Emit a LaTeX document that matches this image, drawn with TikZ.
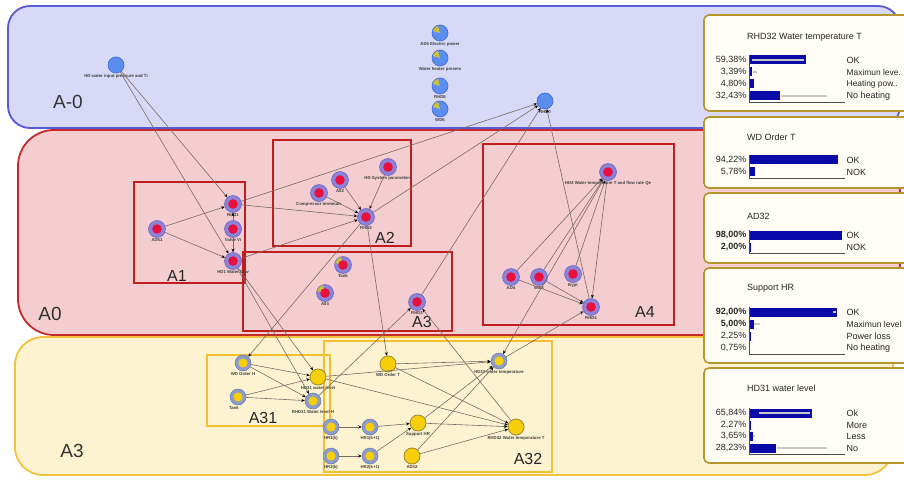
\documentclass[tikz,border=0pt]{standalone}
\usepackage{fontspec}
\setmainfont{Liberation Sans}
\usetikzlibrary{arrows.meta}
\definecolor{regAfill}{HTML}{D8D8F7}
\definecolor{regAdraw}{HTML}{5A5AD6}
\definecolor{regBfill}{HTML}{F3CDD0}
\definecolor{regBdraw}{HTML}{C22A2C}
\definecolor{regCfill}{HTML}{FEF3D0}
\definecolor{regCdraw}{HTML}{F0C23E}
\definecolor{boxred}{HTML}{C01E1E}
\definecolor{boxyel}{HTML}{F2C030}
\definecolor{nodeblue}{HTML}{5B8EF0}
\definecolor{nodeblueb}{HTML}{3E6AD8}
\definecolor{ringlav}{HTML}{8C82D8}
\definecolor{ringlavb}{HTML}{6A5EC0}
\definecolor{nodered}{HTML}{E8103C}
\definecolor{ringgrey}{HTML}{8E9CCA}
\definecolor{ringgreyb}{HTML}{6C7AAE}
\definecolor{nodeyel}{HTML}{F6CF0A}
\definecolor{nodeyelb}{HTML}{9C8A30}
\definecolor{wedgec}{HTML}{C8C040}
\definecolor{edgec}{HTML}{7B6A66}
\definecolor{panelfill}{HTML}{FFFDF6}
\definecolor{paneldraw}{HTML}{B8962E}
\definecolor{barblue}{HTML}{0A0AA8}
\definecolor{greyline}{HTML}{C8C8C8}
\newcommand\mybar[6]{% name, y, pct, width, label, pctstyle
  \node[#6, anchor=east] (#1p) at (747,#2) {#3};
  \fill[barblue] (749,#2-4.5) rectangle ++(#4,9);
  \node[pct, anchor=west] (#1l) at (846,#2) {#5};
}
\newcommand\mygrey[3]{\draw[greyline, line width=1.6pt] (#2,#1) -- (#3,#1);}
\begin{document}
\begin{tikzpicture}[x=1pt,y=-1pt,
  bn/.style={circle, minimum size=16pt, inner sep=0pt, fill=nodeblue, draw=nodeblueb, line width=0.6pt},
  bnw/.style={bn, path picture={\fill[wedgec] (path picture bounding box.center) -- ++(105:9pt) arc[start angle=105, end angle=165, radius=9pt] -- cycle;}},
  rn/.style={circle, minimum size=17pt, inner sep=0pt, fill=ringlav, draw=ringlavb, line width=0.5pt,
    path picture={\fill[nodered] (path picture bounding box.center) circle (4.8pt);}},
  rnw/.style={circle, minimum size=17pt, inner sep=0pt, fill=ringlav, draw=ringlavb, line width=0.5pt,
    path picture={\fill[wedgec] (path picture bounding box.center) -- ++(105:9pt) arc[start angle=105, end angle=165, radius=9pt] -- cycle;
      \fill[nodered] (path picture bounding box.center) circle (4.8pt);}},
  yrn/.style={circle, minimum size=16pt, inner sep=0pt, fill=ringgrey, draw=ringgreyb, line width=0.5pt,
    path picture={\fill[nodeyel] (path picture bounding box.center) circle (4.6pt);}},
  yn/.style={circle, minimum size=16pt, inner sep=0pt, fill=nodeyel, draw=nodeyelb, line width=0.8pt},
  lbl/.style={font=\fontsize{4.3}{5}\selectfont\bfseries, text=black!75, inner sep=0.6pt},
  edge/.style={draw=edgec, line width=0.6pt, -{Stealth[length=3.5pt,width=3pt,color=black]}},
  redbox/.style={draw=boxred, line width=2.2pt},
  yelbox/.style={draw=boxyel, line width=2.2pt},
  boxlbl/.style={font=\fontsize{16}{18}\selectfont, text=black!85, inner sep=0pt},
  reglbl/.style={font=\fontsize{19}{21}\selectfont, text=black!80, inner sep=0pt},
  panel/.style={fill=panelfill, draw=paneldraw, line width=1.6pt, rounded corners=5pt},
  ptitle/.style={font=\fontsize{9}{10}\selectfont, text=black!85, inner sep=0pt, anchor=west},
  pct/.style={font=\fontsize{9}{10}\selectfont, text=black!85, inner sep=0.5pt},
  pctb/.style={pct, font=\fontsize{9}{10}\selectfont\bfseries},
  axis/.style={draw=black!70, line width=0.6pt}
]
\useasboundingbox (0,0) rectangle (904,481);
\fill[white] (0,0) rectangle (904,481);

% regions
\draw[fill=regAfill, draw=regAdraw, line width=1.8pt, rounded corners=22pt] (8,6) rectangle (900,128);
\draw[fill=regBfill, draw=regBdraw, line width=1.8pt, rounded corners=36pt] (18,130) rectangle (900,335);
\draw[fill=regCfill, draw=regCdraw, line width=1.8pt, rounded corners=28pt] (15,337) rectangle (893,475);
\node[reglbl] (lA0) at (68,102) {A-0};
\node[reglbl] (lAzero) at (50,314) {A0};
\node[reglbl] (lA3) at (72,451) {A3};

% sub boxes
\draw[redbox] (134,182) rectangle (245,283);
\draw[redbox] (273,140) rectangle (411,246);
\draw[redbox] (243,252) rectangle (452,331);
\draw[redbox] (483,144) rectangle (674,325);
\draw[yelbox] (207,355) rectangle (330,426);
\draw[yelbox] (324,341) rectangle (552,472);
\node[boxlbl] (bA1) at (177,276) {A1};
\node[boxlbl] (bA2) at (385,238) {A2};
\node[boxlbl] (bA3) at (422,322) {A3};
\node[boxlbl] (bA4) at (645,312) {A4};
\node[boxlbl] (bA31) at (263,418) {A31};
\node[boxlbl] (bA32) at (528,459) {A32};

% A-0 nodes
\node[bn, label={[lbl]below:HD water input pressure and Ti}] (hdin) at (116,65) {};
\node[bnw, label={[lbl]below:AD6 Electric power}] (ad6) at (440,33) {};
\node[bnw, label={[lbl]below:Water heater presets}] (whp) at (440,58) {};
\node[bnw, label={[lbl]below:RHD6}] (rhd6) at (440,86) {};
\node[bnw, label={[lbl]below:WD6}] (wd6) at (440,109) {};
\node[bn, label={[lbl]below:RHD0}] (rhd0) at (545,101) {};

% A0 nodes
\node[rn, label={[lbl]below:AD61}] (ad61) at (157,229) {};
\node[rn, label={[lbl]below:RHD1}] (rhd1) at (233,204) {};
\node[rn, label={[lbl]below:Valve Vi}] (valve) at (233,229) {};
\node[rn, label={[lbl]below:HD1 Water flow}] (hd1) at (233,261) {};
\node[rn, label={[lbl]below:Compressor terminals}] (comp) at (319,193) {};
\node[rn, label={[lbl]below:A02}] (a02) at (340,180) {};
\node[rn, label={[lbl]below:HD System parameters}] (hdsys) at (388,167) {};
\node[rn, label={[lbl]below:RHD2}] (rhd2) at (366,217) {};
\node[rnw, label={[lbl]below:Tank}] (tank3) at (343,265) {};
\node[rnw, label={[lbl]below:A03}] (a03) at (325,293) {};
\node[rn, label={[lbl]below:RHD3}] (rhd3) at (417,302) {};
\node[rn, label={[lbl]below:HD4 Water temperature T and flow rate Qe}] (hd4) at (608,172) {};
\node[rn, label={[lbl]below:AD4}] (ad4) at (511,277) {};
\node[rn, label={[lbl]below:WD4}] (wd4) at (539,277) {};
\node[rn, label={[lbl]below:Bypt}] (bypt) at (573,274) {};
\node[rn, label={[lbl]below:RHD4}] (rhd4) at (591,307) {};

% A3 nodes
\node[yrn, label={[lbl]below:WD Order H}] (wdoh) at (243,363) {};
\node[yrn, label={[lbl,xshift=-4pt]below:Tank}] (tank31) at (238,397) {};
\node[yn, label={[lbl]below:HD31 water level}] (hd31) at (318,377) {};
\node[yrn, label={[lbl]below:RHD31 Water level H}] (rhd31) at (313,401) {};
\node[yn, label={[lbl]below:WD Order T}] (wdot) at (388,364) {};
\node[yrn, label={[lbl]below:HD32 water temperature}] (hd32) at (499,361) {};
\node[yrn, label={[lbl]below:HR1(k)}] (hr1k) at (331,427) {};
\node[yrn, label={[lbl]below:HR1(k+1)}] (hr1kk) at (370,427) {};
\node[yn, label={[lbl]below:Support HR}] (suphr) at (418,423) {};
\node[yn, label={[lbl]below:RHD32 Water temperature T}] (rhd32) at (516,427) {};
\node[yrn, label={[lbl]below:HR2(k)}] (hr2k) at (331,456) {};
\node[yrn, label={[lbl]below:HR2(k+1)}] (hr2kk) at (370,456) {};
\node[yn, label={[lbl]below:AD32}] (ad32) at (412,456) {};

% edges
\draw[edge] (hdin) -- (rhd1);
\draw[edge] (hdin) -- (hd1);
\draw[edge] (ad61) -- (rhd1);
\draw[edge] (ad61) -- (hd1);
\draw[edge] (valve) -- (hd1);
\draw[edge] (valve) -- (rhd1);
\draw[edge] (rhd1) -- (rhd2);
\draw[edge] (hd1) -- (rhd2);
\draw[edge] (rhd1) -- (rhd0);
\draw[edge] (rhd2) -- (rhd0);
\draw[edge] (rhd3) -- (rhd0);
\draw[edge] (rhd4) -- (rhd0);
\draw[edge] (comp) -- (rhd2);
\draw[edge] (a02) -- (rhd2);
\draw[edge] (hdsys) -- (rhd2);
\draw[edge] (hd1) -- (hd31);
\draw[edge] (hd1) -- (rhd31);
\draw[edge] (rhd2) -- (wdoh);
\draw[edge] (rhd2) -- (wdot);
\draw[edge] (ad4) -- (rhd4);
\draw[edge] (wd4) -- (rhd4);
\draw[edge] (ad4) -- (hd4);
\draw[edge] (wd4) -- (hd4);
\draw[edge] (bypt) -- (hd4);
\draw[edge] (hd4) -- (rhd4);
\draw[edge] (hd4) -- (hd32);
\draw[edge] (hd32) -- (rhd4);
\draw[edge] (wdoh) -- (hd31);
\draw[edge] (wdoh) -- (rhd31);
\draw[edge] (tank31) -- (hd31);
\draw[edge] (tank31) -- (rhd31);
\draw[edge] (rhd31) -- (rhd3);
\draw[edge] (rhd32) -- (rhd3);
\draw[edge] (hd31) -- (hd32);
\draw[edge] (hd31) -- (rhd32);
\draw[edge] (wdot) -- (hd32);
\draw[edge] (wdot) -- (rhd32);
\draw[edge] (hr1k) -- (hr1kk);
\draw[edge] (hr2k) -- (hr2kk);
\draw[edge] (hr1kk) -- (suphr);
\draw[edge] (hr2kk) -- (suphr);
\draw[edge] (suphr) -- (rhd32);
\draw[edge] (suphr) -- (hd32);
\draw[edge] (ad32) -- (hd32);
\draw[edge] (ad32) -- (rhd32);

% panels
\draw[panel] (704,15) rectangle (914,111);
\draw[panel] (704,117) rectangle (914,188);
\draw[panel] (704,193) rectangle (914,263);
\draw[panel] (704,268) rectangle (914,363);
\draw[panel] (704,368) rectangle (914,463);

% panel 1
\node[ptitle] (t1) at (747,37) {RHD32 Water temperature T};
\mybar{a1}{60}{59,38\%}{57}{OK}{pct}
\mybar{a2}{72}{3,39\%}{3.3}{\fontsize{8.4}{10}\selectfont Maximun leve.}{pct}
\mybar{a3}{84}{4,80\%}{4.6}{\fontsize{8.4}{10}\selectfont Heating pow..}{pct}
\mybar{a4}{96}{32,43\%}{31}{No heating}{pct}
\mygrey{60}{752}{804}
\mygrey{72}{753}{757}
\mygrey{96}{781}{827}
\draw[axis] (749,55) -- (749,102) -- (845,102);

% panel 2
\node[ptitle] (t2) at (747,137) {WD Order T};
\mybar{b1}{160}{94,22\%}{89}{OK}{pct}
\mybar{b2}{172}{5,78\%}{5.5}{NOK}{pct}
\draw[axis] (749,155) -- (749,178) -- (845,178);

% panel 3
\node[ptitle] (t3) at (747,216) {AD32};
\mybar{c1}{235}{98,00\%}{93}{OK}{pctb}
\mybar{c2}{247}{2,00\%}{1.5}{NOK}{pctb}
\draw[axis] (749,230) -- (749,253) -- (845,253);

% panel 4
\node[ptitle] (t4) at (747,288) {Support HR};
\mybar{d1}{312}{92,00\%}{88}{OK}{pctb}
\mybar{d2}{324}{5,00\%}{4.8}{\fontsize{8.6}{10}\selectfont Maximun level}{pctb}
\mybar{d3}{336}{2,25\%}{2.2}{Power loss}{pct}
\mybar{d4}{348}{0,75\%}{0.8}{No heating}{pct}
\mygrey{312}{833}{836}
\mygrey{324}{754}{760}
\draw[axis] (749,307) -- (749,354) -- (845,354);

% panel 5
\node[ptitle] (t5) at (747,388) {HD31 water level};
\mybar{e1}{413}{65,84\%}{63}{Ok}{pct}
\mybar{e2}{425}{2,27\%}{2.2}{More}{pct}
\mybar{e3}{436}{3,65\%}{3.5}{Less}{pct}
\mybar{e4}{448}{28,23\%}{27}{No}{pct}
\mygrey{413}{759}{810}
\mygrey{436}{753}{755}
\mygrey{448}{777}{827}
\draw[axis] (749,408) -- (749,454) -- (845,454);
\end{tikzpicture}
\end{document}
